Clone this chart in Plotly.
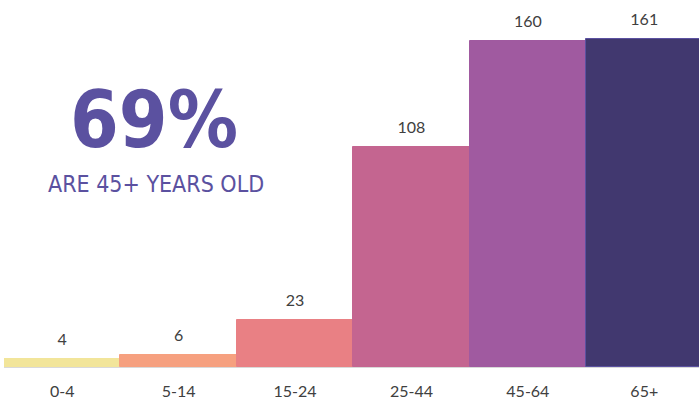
import plotly.graph_objects as go

categories = ["0-4", "5-14", "15-24", "25-44", "45-64", "65+"]
values = [4, 6, 23, 108, 160, 161]
bar_colors = ["#F2E59A", "#F6A07F", "#E98084", "#C46590", "#A05AA0", "#41386F"]
line_colors = ["#F2E59A", "#F6A07F", "#E98084", "#C46590", "#A05AA0", "#5B51A0"]
headline = "69%"
subline = "ARE 45+ YEARS OLD"

label_font = "Lato, Open Sans, sans-serif"
big_font = "DejaVu Sans Condensed, DejaVu Sans"

fig = go.Figure()
fig.add_trace(go.Bar(
    x=categories, y=values,
    marker=dict(color=bar_colors, line=dict(color=line_colors, width=1)),
    hoverinfo="x+y",
))
fig.add_trace(go.Scatter(
    x=categories, y=values, mode="markers+text",
    marker=dict(size=14, opacity=0),
    text=[str(v) for v in values], textposition="top center",
    textfont=dict(family=label_font, size=16, color="#404040"),
    cliponaxis=False, hoverinfo="skip",
))

fig.update_layout(
    width=699, height=400,
    margin=dict(l=4, r=0, t=0, b=33, autoexpand=False),
    paper_bgcolor="white", plot_bgcolor="white",
    bargap=0, showlegend=False,
    xaxis=dict(range=[-0.5, 5.47], showline=True, linecolor="#D9D9D9", linewidth=1,
               showgrid=False, ticks="", ticklabelstandoff=10, automargin=False,
               tickfont=dict(family=label_font, size=16, color="#404040")),
    yaxis=dict(range=[0, 180], visible=False, showgrid=False, zeroline=False, automargin=False),
    annotations=[
        dict(text="<b>%s</b>" % headline, x=0.216, y=0.672, xref="paper", yref="paper",
             showarrow=False, xanchor="center", yanchor="middle",
             font=dict(family=big_font, size=78, color="#5B51A0")),
        dict(text=subline, x=0.218, y=0.499, xref="paper", yref="paper",
             showarrow=False, xanchor="center", yanchor="middle",
             font=dict(family=big_font, size=23, color="#5B51A0")),
    ],
)

fig.write_html("out.html", config={"displayModeBar": False},
               post_script="document.body.style.margin='0';document.body.style.overflow='hidden';")
